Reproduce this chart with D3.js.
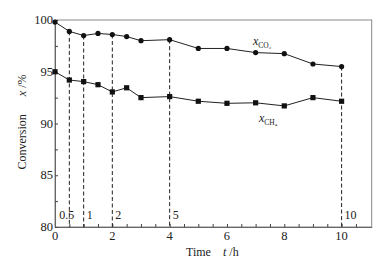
<!DOCTYPE html>
<html><head><meta charset="utf-8">
<script src="https://cdn.jsdelivr.net/npm/d3@7"></script>
<style>body{margin:0;background:#fff}svg{display:block}</style>
</head><body><svg id="c" width="377" height="263"></svg>
<script>
const times = [0,0.5,1,1.5,2,2.5,3,4,5,6,7,8,9,10];
const co2 = [99.8,98.9,98.5,98.7,98.6,98.4,98.0,98.1,97.25,97.25,96.85,96.75,95.75,95.5];
const ch4 = [95.0,94.2,94.05,93.75,93.05,93.45,92.5,92.6,92.15,91.95,92.0,91.7,92.5,92.15];
const markTimes = [0.5,1,2,4,10];
const markLabels = ["0.5","1","2","5","10"];
const xTicks = [0,2,4,6,8,10];
const yTicks = [80,85,90,95,100];

const svg = d3.select("#c");
const font = "'Liberation Serif', 'Times New Roman', serif";
const x = d3.scaleLinear().domain([0,11.05]).range([55,371.7]);
const y = d3.scaleLinear().domain([80,100]).range([227,20]);

// frame
svg.append("rect").attr("x",55).attr("y",20).attr("width",316.7).attr("height",207)
  .attr("fill","none").attr("stroke","#888").attr("stroke-width",1);

// bottom axis
const xa = svg.append("g").attr("transform","translate(0,227)")
  .call(d3.axisBottom(x).tickValues(d3.range(0,11.0,0.5)).tickSizeInner(-3).tickSizeOuter(0).tickFormat(""));
xa.select(".domain").attr("stroke","#666");
xa.selectAll(".tick line").attr("stroke","#444");
svg.append("g").selectAll("text").data(xTicks).join("text")
  .attr("x",d=>x(d)).attr("y",240).attr("text-anchor","middle")
  .attr("font-family",font).attr("font-size",12.5).attr("fill","#222").text(d=>d);

// left axis
const ya = svg.append("g").attr("transform","translate(55,0)")
  .call(d3.axisLeft(y).tickValues(d3.range(80,100.1,2.5)).tickSizeInner(-3).tickSizeOuter(0).tickFormat(""));
ya.select(".domain").attr("stroke","#666");
ya.selectAll(".tick line").attr("stroke","#444");
svg.append("g").selectAll("text").data(yTicks).join("text")
  .attr("x",53).attr("y",d=>y(d)+4).attr("text-anchor","end")
  .attr("font-family",font).attr("font-size",12.5).attr("fill","#222").text(d=>d);

// dashed vertical lines
markTimes.forEach((t,i)=>{
  const v = co2[times.indexOf(t)];
  svg.append("line").attr("x1",x(t)).attr("x2",x(t)).attr("y1",y(v)).attr("y2",227)
    .attr("stroke","#222").attr("stroke-width",1).attr("stroke-dasharray","4,2.5");
  svg.append("text").attr("x",i===0 ? x(t)-10 : x(t)+3).attr("y",219).attr("font-family",font).attr("font-size",12)
    .attr("fill","#222").text(markLabels[i]);
});

// lines
const line = d3.line().x((d,i)=>x(times[i])).y(d=>y(d));
svg.append("path").datum(co2).attr("d",line).attr("fill","none").attr("stroke","#222").attr("stroke-width",1);
svg.append("path").datum(ch4).attr("d",line).attr("fill","none").attr("stroke","#222").attr("stroke-width",1);
svg.append("g").selectAll("circle").data(co2).join("circle")
  .attr("cx",(d,i)=>x(times[i])).attr("cy",d=>y(d)).attr("r",2.6).attr("fill","#111");
svg.append("g").selectAll("rect").data(ch4).join("rect")
  .attr("x",(d,i)=>x(times[i])-2.6).attr("y",d=>y(d)-2.6).attr("width",5.2).attr("height",5.2).attr("fill","#111");

// series labels
function subLabel(px,py,sub){
  const t = svg.append("text").attr("x",px).attr("y",py).attr("font-family",font).attr("fill","#222");
  t.append("tspan").attr("font-style","italic").attr("font-size",12).text("x");
  t.append("tspan").attr("font-size",7.5).attr("dy",3).text(sub);
}
subLabel(253,45,"CO₂");
subLabel(259,122,"CH₄");

// axis titles
const yt = svg.append("text").attr("transform","translate(26,122) rotate(-90)").attr("text-anchor","middle")
  .attr("font-family",font).attr("font-size",12).attr("fill","#222");
yt.append("tspan").text("Conversion\u2003\u2002");
yt.append("tspan").attr("font-style","italic").text("x");
yt.append("tspan").text(" /%");
svg.append("text").attr("x",186).attr("y",256)
  .attr("font-family",font).attr("font-size",12).attr("fill","#222").text("Time");
const xt = svg.append("text").attr("x",223).attr("y",256)
  .attr("font-family",font).attr("font-size",12).attr("fill","#222");
xt.append("tspan").attr("font-style","italic").text("t");
xt.append("tspan").text(" /h");
</script></body></html>
